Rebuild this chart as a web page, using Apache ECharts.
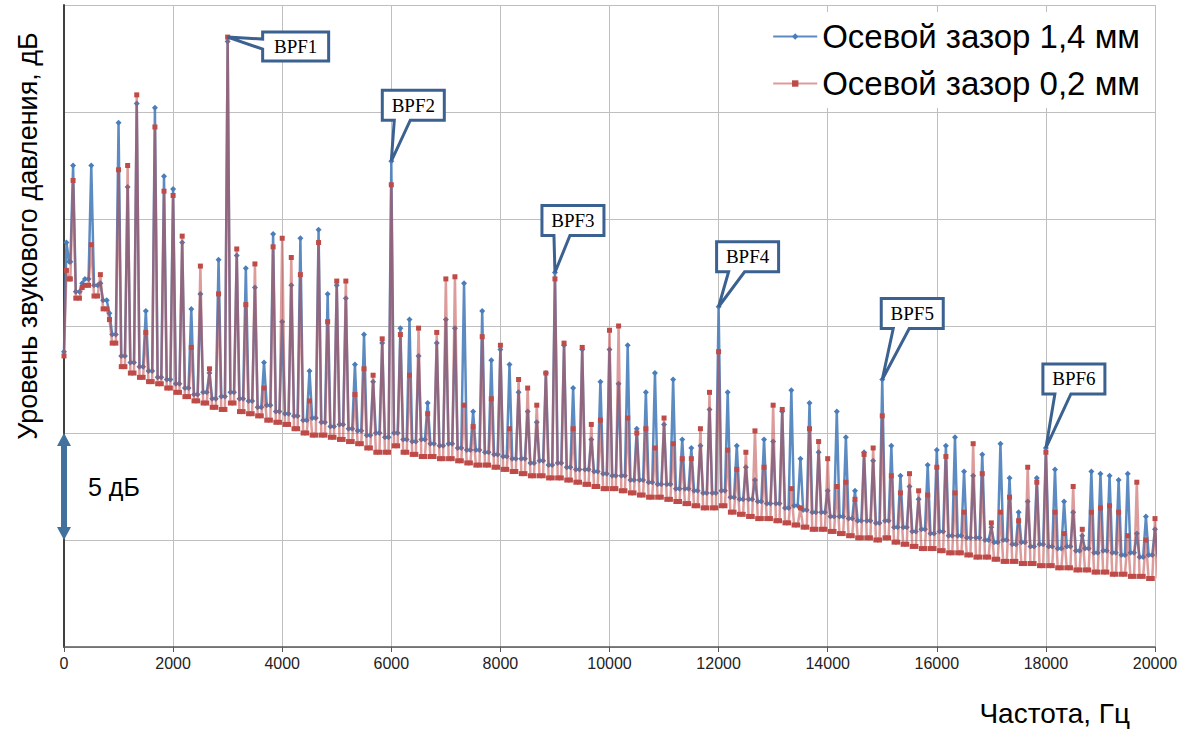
<!DOCTYPE html>
<html>
<head>
<meta charset="utf-8">
<script src="https://cdn.jsdelivr.net/npm/echarts@6/dist/echarts.min.js"></script>
<style>
html, body { margin: 0; padding: 0; background: #fff; }
#spectrum_chart { width: 1192px; height: 731px; }
</style>
</head>
<body>
<div id="spectrum_chart"></div>
<script>
// частота вращения, Гц (BPF1 = 18-я гармоника = 3000 Гц)
const shaftHz = 3000 / 18
const bpfOrder = 18

// начало спектра до первой гармоники: [Гц, дБ]
const head14 = [[0, 13.8], [45, 18.9], [95, 18.0]]
const head02 = [[0, 13.6], [45, 17.6], [95, 17.2]]

// уровни на гармониках 1..120, дБ (относительные)
const peaks14 = [
  22.5, 17.0, 22.5, 17.0, 15.6, 24.5, 21.5, 25.4, 15.7, 25.2,
  22.0, 21.4, 18.9, 15.8, 16.5, 12.8, 18.1, 28.3, 18.3, 17.7,
  16.8, 13.3, 19.3, 15.2, 16.9, 19.1, 12.9, 19.5, 16.5, 16.9,
  16.3, 13.2, 14.6, 12.4, 14.2, 22.7, 14.9, 15.3, 13.6, 11.4,
  14.2, 15.3, 14.9, 17.0, 11.0, 15.7, 13.4, 13.9, 13.2, 11.9,
  11.0, 10.5, 12.8, 17.5, 14.1, 12.1, 13.9, 9.7, 12.4, 13.9,
  12.3, 14.1, 10.2, 11.9, 12.8, 10.4, 12.5, 9.7, 9.3, 9.4,
  11.1, 15.9, 11.9, 9.4, 8.4, 7.8, 9.7, 9.6, 11.0, 12.0,
  8.8, 11.4, 9.1, 7.3, 11.0, 9.8, 7.3, 9.1, 8.7, 12.5,
  9.4, 8.0, 7.5, 6.9, 8.5, 9.2, 9.4, 9.8, 8.2, 8.0,
  9.0, 5.6, 9.5, 7.9, 6.3, 6.8, 7.9, 9.3, 8.3, 6.8,
  6.3, 5.2, 8.2, 8.1, 8.0, 7.8, 8.1, 5.3, 6.1, 5.5
]
const peaks02 = [
  21.8, 16.8, 18.8, 17.4, 15.3, 22.3, 22.5, 25.8, 14.7, 24.3,
  21.3, 21.1, 19.2, 14.0, 17.8, 13.0, 16.5, 28.5, 18.6, 16.0,
  17.9, 12.1, 18.7, 19.1, 18.2, 17.4, 11.5, 18.9, 15.2, 17.1,
  17.1, 11.8, 13.0, 12.7, 14.4, 21.6, 14.6, 12.7, 14.9, 10.9,
  14.7, 17.2, 17.3, 11.3, 10.3, 14.5, 11.6, 14.1, 10.2, 12.5,
  12.1, 11.3, 12.8, 17.2, 14.2, 10.2, 14.0, 10.4, 10.6, 14.8,
  15.0, 10.7, 10.0, 10.2, 9.3, 10.7, 9.5, 8.8, 8.8, 10.2,
  11.9, 13.8, 9.2, 8.3, 9.1, 10.1, 8.4, 11.3, 11.1, 7.4,
  6.5, 10.2, 9.6, 8.8, 7.5, 7.7, 6.9, 9.0, 9.3, 10.8,
  8.0, 7.2, 8.1, 7.3, 7.1, 8.4, 8.9, 7.2, 6.3, 9.5,
  8.1, 5.8, 6.3, 7.0, 5.9, 8.4, 7.7, 9.1, 6.3, 5.3,
  7.5, 5.5, 6.3, 6.5, 6.6, 6.3, 5.2, 7.7, 5.0, 6.0
]

// фон между гармоникой k и k+1, дБ
const floor14 = [
  16.6, 17.2, 16.9, 16.2, 14.6, 13.6, 13.3, 13.1, 12.9, 12.6,
  12.5, 12.3, 12.1, 11.8, 11.9, 11.6, 11.7, 11.9, 11.6, 11.5,
  11.2, 11.3, 11.0, 10.9, 10.8, 10.6, 10.7, 10.5, 10.3, 10.4,
  10.2, 10.1, 9.9, 10.0, 9.8, 10.0, 9.7, 9.6, 9.7, 9.5,
  9.4, 9.5, 9.3, 9.2, 9.2, 9.1, 9.0, 8.9, 8.8, 8.8,
  8.6, 8.7, 8.5, 8.6, 8.4, 8.3, 8.3, 8.2, 8.1, 8.0,
  8.0, 7.8, 7.8, 7.7, 7.6, 7.6, 7.4, 7.4, 7.3, 7.2,
  7.2, 7.3, 7.0, 6.9, 6.9, 6.8, 6.7, 6.7, 6.5, 6.6,
  6.4, 6.3, 6.3, 6.1, 6.1, 6.0, 5.9, 5.9, 5.8, 5.9,
  5.6, 5.6, 5.4, 5.5, 5.3, 5.4, 5.2, 5.2, 5.1, 5.1,
  5.0, 4.9, 5.0, 4.8, 4.9, 4.7, 4.8, 4.7, 4.6, 4.7,
  4.5, 4.6, 4.4, 4.5, 4.4, 4.3, 4.4, 4.2, 4.3, 4.2
]
const floor02 = [
  16.3, 16.9, 16.4, 15.8, 14.2, 13.1, 12.8, 12.6, 12.4, 12.3,
  12.1, 11.9, 11.7, 11.5, 11.4, 11.2, 11.1, 11.4, 11.0, 10.9,
  10.8, 10.6, 10.5, 10.4, 10.2, 10.0, 9.9, 9.9, 9.8, 9.7,
  9.6, 9.5, 9.3, 9.1, 9.1, 9.4, 9.1, 9.0, 8.9, 8.9,
  8.8, 8.8, 8.7, 8.6, 8.5, 8.5, 8.4, 8.3, 8.2, 8.1,
  8.0, 8.0, 7.9, 7.9, 7.8, 7.7, 7.6, 7.5, 7.4, 7.4,
  7.3, 7.2, 7.1, 7.0, 7.0, 6.9, 6.8, 6.7, 6.6, 6.5,
  6.5, 6.6, 6.3, 6.2, 6.1, 6.0, 6.0, 5.9, 5.8, 5.7,
  5.6, 5.5, 5.5, 5.4, 5.3, 5.2, 5.1, 5.1, 5.0, 5.1,
  4.9, 4.8, 4.7, 4.6, 4.6, 4.5, 4.4, 4.4, 4.3, 4.2,
  4.2, 4.1, 4.0, 4.0, 3.9, 3.9, 3.8, 3.8, 3.7, 3.7,
  3.6, 3.6, 3.5, 3.5, 3.4, 3.4, 3.3, 3.3, 3.2, 3.2
]

const legendNames = ['Осевой зазор 1,4 мм', 'Осевой зазор 0,2 мм']
const bpfLabels = ['BPF1', 'BPF2', 'BPF3', 'BPF4', 'BPF5', 'BPF6']

const FONT = '"Liberation Sans", Arial, sans-serif'
const BLUE = '#4A7EBB'
const RED = '#BE4B48'
const FRAME = '#3B6190'

// собираем спектр: пик на гармонике, по бокам фон
function buildSpectrum (head, peaks, floors) {
  const pts = head.map(p => p.slice())
  let prev = head[head.length - 1][1]
  peaks.forEach((p, i) => {
    const f = (i + 1) * shaftHz
    pts.push([f - 50, prev])
    pts.push([f, p])
    pts.push([f + 50, floors[i]])
    prev = floors[i]
  })
  return pts
}

const dom = document.getElementById('spectrum_chart')
const myChart = echarts.init(dom, null, { renderer: 'svg' })

const option = {
  animation: false,
  backgroundColor: '#fff',
  grid: { left: 64, right: 37, top: 5, bottom: 84 },
  legend: {
    data: legendNames,
    orient: 'vertical',
    right: 46,
    top: 12,
    itemGap: 14,
    itemWidth: 44,
    itemHeight: 8,
    padding: [8, 6, 8, 8],
    backgroundColor: '#fff',
    textStyle: { fontSize: 33, fontFamily: FONT, color: '#000' }
  },
  xAxis: {
    type: 'value',
    min: 0,
    max: 20000,
    interval: 2000,
    name: 'Частота, Гц',
    nameLocation: 'end',
    nameGap: -25,
    nameTextStyle: {
      fontSize: 28, fontFamily: FONT, color: '#000',
      align: 'right', verticalAlign: 'top', padding: [52, 0, 0, 0]
    },
    axisLine: { lineStyle: { color: '#595959', width: 1.5 } },
    axisTick: { show: true, length: 5, lineStyle: { color: '#595959' } },
    axisLabel: {
      fontSize: 16, fontFamily: FONT, color: '#222', margin: 8,
      formatter: v => String(v)
    },
    splitLine: { show: true, lineStyle: { color: '#BFBFBF', width: 1 } }
  },
  yAxis: {
    type: 'value',
    min: 0,
    max: 30,
    interval: 5,
    axisLine: { show: true, lineStyle: { color: '#404040', width: 2 } },
    axisTick: { show: false },
    axisLabel: { show: false },
    splitLine: { show: true, lineStyle: { color: '#BFBFBF', width: 1 } }
  },
  series: [
    {
      name: legendNames[0],
      type: 'line',
      data: buildSpectrum(head14, peaks14, floor14),
      symbol: 'diamond',
      symbolSize: 6,
      showAllSymbol: true,
      itemStyle: { color: BLUE },
      lineStyle: { color: BLUE, width: 2.5, opacity: 0.9 },
      z: 2
    },
    {
      name: legendNames[1],
      type: 'line',
      data: buildSpectrum(head02, peaks02, floor02),
      symbol: 'rect',
      symbolSize: 5,
      showAllSymbol: true,
      itemStyle: { color: RED },
      lineStyle: { color: RED, width: 2.5, opacity: 0.55 },
      z: 3
    }
  ]
}
myChart.setOption(option, true)

// выноски BPF и шкала 5 дБ
function drawOverlay () {
  const g = []
  // смещения рамок относительно пика: [слева, низ рамки]
  const boxShift = [null, [-9, -41], [-13, -37], [-2, -35], [-1, -51], [-3, -54]]
  bpfLabels.forEach((txt, n) => {
    const k = bpfOrder * (n + 1)
    const level = Math.max(peaks14[k - 1], peaks02[k - 1])
    const tip = myChart.convertToPixel({ gridIndex: 0 }, [k * shaftHz, level])
    let pts, cx, cy
    if (n === 0) {
      const l = tip[0] + 35, t = tip[1] - 5, r = l + 66, b = t + 29
      pts = [[l, t], [r, t], [r, b], [l, b], [l, tip[1] + 12], tip, [l, tip[1] + 2]]
      cx = (l + r) / 2; cy = (t + b) / 2
    } else {
      const l = tip[0] + boxShift[n][0], b = tip[1] + boxShift[n][1], r = l + 62, t = b - 30
      pts = [[l, t], [r, t], [r, b], [l + 28, b], tip, [l + 12, b], [l, b]]
      cx = (l + r) / 2; cy = (t + b) / 2
    }
    g.push({
      type: 'polygon', shape: { points: pts }, z: 50,
      style: { fill: '#fff', stroke: FRAME, lineWidth: 3, lineJoin: 'miter' }
    })
    g.push({
      type: 'text', x: cx, y: cy, z: 51,
      style: {
        text: txt, fill: '#000', align: 'center', verticalAlign: 'middle',
        font: '19px "Liberation Serif", "Times New Roman", serif'
      }
    })
  })
  // стрелка 5 дБ
  const p1 = myChart.convertToPixel({ gridIndex: 0 }, [0, 10])
  const p2 = myChart.convertToPixel({ gridIndex: 0 }, [0, 5])
  const x = p1[0]
  g.push({
    type: 'line', z: 60,
    shape: { x1: x, y1: p1[1] + 10, x2: x, y2: p2[1] - 10 },
    style: { stroke: '#41719C', lineWidth: 6 }
  })
  g.push({
    type: 'polygon', z: 60,
    shape: { points: [[x, p1[1]], [x + 7, p1[1] + 13], [x - 7, p1[1] + 13]] },
    style: { fill: '#41719C' }
  })
  g.push({
    type: 'polygon', z: 60,
    shape: { points: [[x, p2[1]], [x + 7, p2[1] - 13], [x - 7, p2[1] - 13]] },
    style: { fill: '#41719C' }
  })
  g.push({
    type: 'text', x: x + 24, y: (p1[1] + p2[1]) / 2, z: 60,
    style: { text: '5 дБ', fill: '#000', verticalAlign: 'middle', font: '25px ' + FONT }
  })
  // подпись оси Y
  g.push({
    type: 'text', x: 28, y: 236, rotation: Math.PI / 2, z: 60,
    style: {
      text: 'Уровень звукового давления, дБ', fill: '#000',
      align: 'center', verticalAlign: 'middle', font: '27px ' + FONT
    }
  })
  myChart.setOption({ graphic: g })
}
drawOverlay()
</script>
</body>
</html>
